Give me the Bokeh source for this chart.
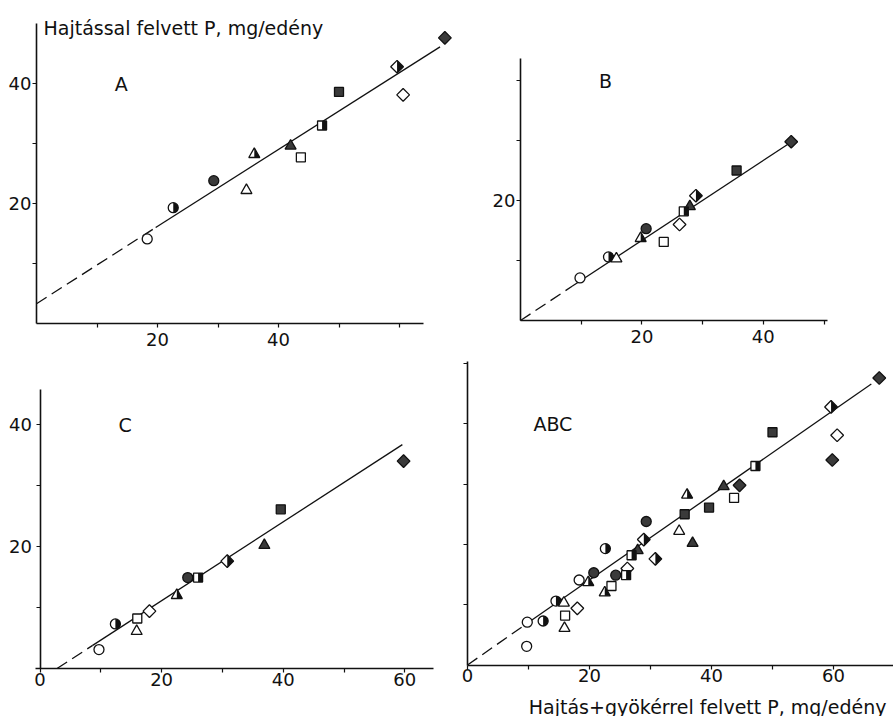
import math
from bokeh.plotting import figure
from bokeh.models import FixedTicker, Label, Range1d, LinearAxis
from bokeh.embed import file_html
from bokeh.resources import INLINE

FONT = "DejaVu Sans"

# marker order: circle (open, half, full), triangle (...), square (...), diamond (...)
SHAPES = ["circle"] * 3 + ["triangle"] * 3 + ["square"] * 3 + ["diamond"] * 3
FILLS = ["open", "half", "full"] * 4

# ---- data ----
A_x = [18.3, 22.6, 29.3, 34.7, 36.0, 42.0, 43.7, 47.2, 50.0, 60.6, 59.6, 67.5]
A_y = [14.1, 19.3, 23.8, 22.2, 28.2, 29.6, 27.7, 33.0, 38.6, 38.1, 42.8, 47.6]

B_x = [9.8, 14.5, 20.7, 15.8, 19.8, 27.9, 23.6, 26.9, 35.6, 26.2, 28.9, 44.6]
B_y = [7.1, 10.6, 15.3, 10.3, 13.7, 19.0, 13.1, 18.2, 25.0, 16.0, 20.8, 29.8]

C_x = [9.7, 12.4, 24.3, 15.9, 22.5, 36.9, 16.0, 26.0, 39.6, 18.0, 30.8, 59.8]
C_y = [3.1, 7.3, 14.9, 6.1, 12.0, 20.2, 8.2, 14.9, 26.1, 9.4, 17.6, 34.0]

# panel ABC shows all points of A, B and C together
D_x = A_x + B_x + C_x
D_y = A_y + B_y + C_y

# regression lines: [dash start, dash end = solid start, solid end]
A_line_x = [0.0, 19.7, 66.7]
A_line_y = [3.3, 16.0, 46.1]
B_line_x = [0.0, 8.5, 45.0]
B_line_y = [0.0, 5.7, 30.0]
C_line_x = [2.8, 8.6, 59.6]
C_line_y = [0.0, 3.75, 36.7]
D_line_x = [0.0, 9.2, 66.2]
D_line_y = [0.0, 6.5, 46.6]

# ticks (labelled, unlabelled)
A_xticks, A_xminor, A_yticks, A_yminor = [20, 40], [10, 30, 50, 60], [20, 40], [10, 30]
B_xticks, B_xminor, B_yticks, B_yminor = [20, 40], [10, 30, 50], [20], [10, 30, 40]
C_xticks, C_xminor, C_yticks, C_yminor = [0, 20, 40, 60], [10, 30, 50], [20, 40], [10, 30]
D_xticks, D_xminor, D_yticks, D_yminor = [0, 20, 40, 60], [10, 30, 50], [], [10, 20, 30, 40, 50]

Y_TITLE = "Hajtással felvett P, mg/edény"
X_TITLE = "Hajtás+gyökérrel felvett P, mg/edény"

SIZES = {"circle": 10, "triangle": 11, "square": 9, "diamond": 9}
INK = "#111111"
DARK = "#3a3a3a"

W, H = 893, 716  # canvas size (drawn at the page's top-left corner)
OFF = 0

# layout of each panel: origin in page pixels, pixels per unit, axis extents, label standoffs
PANELS = [
    dict(name="A", x=A_x, y=A_y, lx=A_line_x, ly=A_line_y, ox=36, oy=323, kx=6.05, ky=6.0,
         xb=(0, 64), yb=(0, 50), xt=A_xticks, xm=A_xminor, yt=A_yticks, ym=A_yminor,
         xs=5, ys=1),
    dict(name="B", x=B_x, y=B_y, lx=B_line_x, ly=B_line_y, ox=520, oy=320, kx=6.07, ky=6.0,
         xb=(0, 50.5), yb=(0, 43.7), xt=B_xticks, xm=B_xminor, yt=B_yticks, ym=B_yminor,
         xs=5, ys=1),
    dict(name="C", x=C_x, y=C_y, lx=C_line_x, ly=C_line_y, ox=39.5, oy=668, kx=6.08, ky=6.1,
         xb=(-0.7, 64.7), yb=(0, 45.7), xt=C_xticks, xm=C_xminor, yt=C_yticks, ym=C_yminor,
         xs=0, ys=4),
    dict(name="ABC", x=D_x, y=D_y, lx=D_line_x, ly=D_line_y, ox=467, oy=664.5, kx=6.1, ky=6.03,
         xb=(0, 70), yb=(0, 50.3), xt=D_xticks, xm=D_xminor, yt=D_yticks, ym=D_yminor,
         xs=0, ys=1),
]

p = figure(frame_width=W, frame_height=H, x_range=Range1d(0, 1), y_range=Range1d(0, 1),
           x_axis_type=None, y_axis_type=None, title=None,
           min_border=0, min_border_left=0, min_border_right=0,
           min_border_top=0, min_border_bottom=0,
           output_backend="svg", toolbar_location=None, tools="",
           background_fill_color="white", border_fill_color="white")
p.outline_line_color = None


def style_axis(ax, standoff):
    ax.axis_line_color = INK
    ax.axis_line_width = 1.6
    ax.major_tick_line_color = INK
    ax.minor_tick_line_color = INK
    ax.major_tick_line_width = 1.2
    ax.minor_tick_line_width = 1.2
    ax.major_tick_in = 0
    ax.major_tick_out = 4
    ax.minor_tick_in = 0
    ax.minor_tick_out = 4
    ax.major_label_standoff = standoff
    ax.major_label_text_font = FONT
    ax.major_label_text_font_size = "18px"
    ax.major_label_text_color = INK


for pn in PANELS:
    n = pn["name"]
    kx, ky = pn["kx"], pn["ky"]
    cx0 = pn["ox"] - OFF
    cy0 = pn["oy"] - OFF
    p.extra_x_ranges[n] = Range1d(-cx0 / kx, (W - cx0) / kx)
    p.extra_y_ranges[n] = Range1d((cy0 - H) / ky, cy0 / ky)

    xa = LinearAxis(x_range_name=n, y_range_name=n, fixed_location=0,
                    ticker=FixedTicker(ticks=pn["xt"], minor_ticks=pn["xm"]),
                    bounds=pn["xb"])
    ya = LinearAxis(x_range_name=n, y_range_name=n, fixed_location=0,
                    ticker=FixedTicker(ticks=pn["yt"], minor_ticks=pn["ym"]),
                    bounds=pn["yb"])
    style_axis(xa, pn["xs"])
    style_axis(ya, pn["ys"])
    p.add_layout(xa, "below")
    p.add_layout(ya, "left")

    rk = dict(x_range_name=n, y_range_name=n)
    lx, ly = pn["lx"], pn["ly"]
    p.line(lx[0:2], ly[0:2], line_color=INK, line_width=1.3, line_dash="12 6", **rk)
    p.line(lx[1:3], ly[1:3], line_color=INK, line_width=1.3, **rk)

    xs, ys = pn["x"], pn["y"]
    reps = len(xs) // 12
    for shape, fill, x, y in zip(SHAPES * reps, FILLS * reps, xs, ys):
        s = SIZES[shape]
        marker = "square" if shape == "diamond" else shape
        ang = math.pi / 4 if shape == "diamond" else 0.0
        fc = DARK if fill == "full" else "white"
        p.scatter([x], [y], marker=marker, angle=ang, size=s,
                  fill_color=fc, line_color=INK, line_width=1.3, **rk)
        if fill == "half":
            if shape == "circle":
                p.wedge([x], [y], radius=s / 2, radius_units="screen",
                        start_angle=-math.pi / 2, end_angle=math.pi / 2,
                        fill_color=INK, line_color=None, **rk)
            elif shape == "square":
                hx, hy = s / 2 / kx, s / 2 / ky
                p.patch([x, x + hx, x + hx, x], [y - hy, y - hy, y + hy, y + hy],
                        fill_color=INK, line_color=None, **rk)
            elif shape == "diamond":
                d = s / 2 * math.sqrt(2)
                p.patch([x, x + d / kx, x], [y + d / ky, y, y - d / ky],
                        fill_color=INK, line_color=None, **rk)
            else:
                r = s / 2
                h = r * math.sqrt(3)
                a = h / 3
                yb = y - a / ky
                yt = y + (h - a) / ky
                p.patch([x, x + r / kx, x], [yb, yb, yt],
                        fill_color=INK, line_color=None, **rk)

    p.add_layout(Label(x=14, y=40, text=n, text_font=FONT, text_font_size="19px",
                       text_color=INK, text_align="center", text_baseline="middle", **rk))

# axis titles (screen units: from canvas left / bottom)
p.add_layout(Label(x=43 - OFF, y=H - (27 - OFF), x_units="screen", y_units="screen",
                   text=Y_TITLE, text_font=FONT, text_font_size="19px", text_color=INK,
                   text_align="left", text_baseline="alphabetic"))
p.add_layout(Label(x=886 - OFF, y=H - (706 - OFF), x_units="screen", y_units="screen",
                   text=X_TITLE, text_font=FONT, text_font_size="19px", text_color=INK,
                   text_align="right", text_baseline="alphabetic"))

open("out.html", "w").write(file_html(p, INLINE))
